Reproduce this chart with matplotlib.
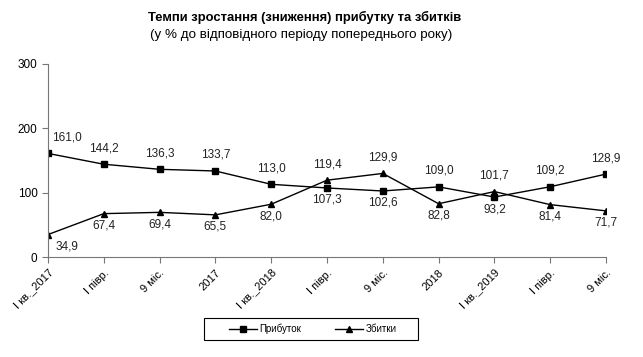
import matplotlib
matplotlib.use('Agg')
import matplotlib.pyplot as plt
from matplotlib.patches import Rectangle
import numpy as np

plt.rcParams['font.family'] = ['Liberation Sans', 'DejaVu Sans']

# categories and values
periods = ['I кв._2017', 'I півр.', '9 міс.', '2017', 'I кв._2018', 'I півр.',
           '9 міс.', '2018', 'I кв._2019', 'I півр.', '9 міс.']
profit = [161.0, 144.2, 136.3, 133.7, 113.0, 107.3, 102.6, 109.0, 93.2, 109.2, 128.9]
losses = [34.9, 67.4, 69.4, 65.5, 82.0, 119.4, 129.9, 82.8, 101.7, 81.4, 71.7]

# label above (+1) or below (-1) the point
profit_pos = [1, 1, 1, 1, 1, -1, -1, 1, -1, 1, 1]
loss_pos = [-1, -1, -1, -1, -1, 1, 1, -1, 1, -1, -1]

fig = plt.figure(figsize=(6.43, 3.57), dpi=100)
ax = fig.add_axes([48 / 643, 100 / 357, 558 / 643, 193 / 357])

x = np.arange(len(periods))
ax.plot(x, profit, color='black', lw=1, marker='s', ms=4, label='Прибуток')
ax.plot(x, losses, color='black', lw=1, marker='^', ms=5, label='Збитки')

def put_labels(vals, pos):
    for i, (v, p) in enumerate(zip(vals, pos)):
        dx = 19 if i == 0 else 0
        dy = 16 if p > 0 else -12
        ax.annotate(f'{v:.1f}'.replace('.', ','), (i, v), xytext=(dx, dy),
                    textcoords='offset pixels', ha='center', va='center',
                    fontsize=8.5, color='#222222')

put_labels(profit, profit_pos)
put_labels(losses, loss_pos)

ax.set_xlim(0, len(periods) - 1)
ax.set_ylim(0, 300)
ax.set_yticks([0, 100, 200, 300])
ax.set_xticks(x)
ax.set_xticklabels(periods, rotation=45, ha='right', rotation_mode='anchor', fontsize=8)
ax.tick_params(axis='y', labelsize=8.5, length=4, color='#777777')
ax.tick_params(axis='x', length=4, color='#777777')
for s in ['top', 'right']:
    ax.spines[s].set_visible(False)
for s in ['left', 'bottom']:
    ax.spines[s].set_color('#777777')

fig.text(305 / 643, 1 - 17 / 357, 'Темпи зростання (зниження) прибутку та збитків',
         ha='center', va='center', fontsize=9.4, fontweight='bold')
fig.text(301 / 643, 1 - 35 / 357, '(у % до відповідного періоду попереднього року)',
         ha='center', va='center', fontsize=9.6)

# legend without its own frame, box drawn separately
fig.legend(loc='center', bbox_to_anchor=(313 / 643, 1 - 329 / 357), ncol=2,
           fontsize=7, frameon=False, handlelength=2.8, handletextpad=0.3,
           columnspacing=3.5)
fig.patches.append(Rectangle((204 / 643, 1 - 340 / 357), 214 / 643, 22 / 357,
                             transform=fig.transFigure, fill=False,
                             edgecolor='black', lw=0.8))

fig.savefig('out.png', dpi=100)
